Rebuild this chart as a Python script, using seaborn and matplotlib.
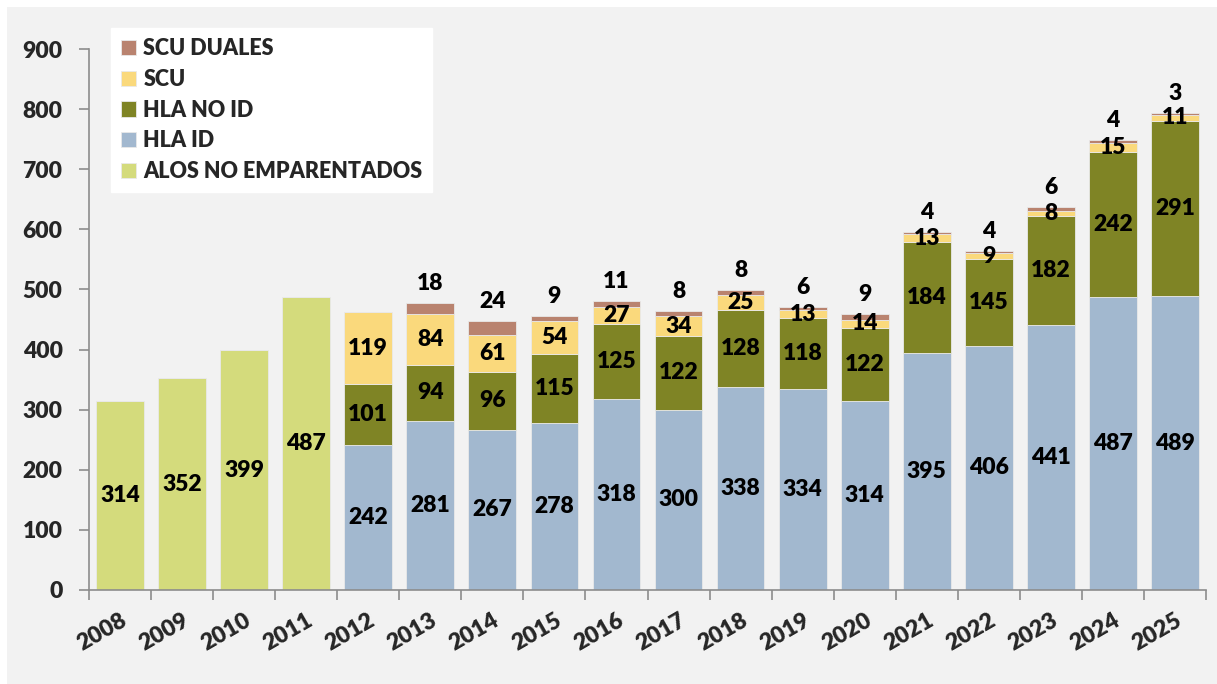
import numpy as np
import pandas as pd
import matplotlib.pyplot as plt
import seaborn as sns
from matplotlib.patches import Rectangle

# data
years = [str(y) for y in range(2008, 2026)]
alos = [314, 352, 399, 487] + [0] * 14
hla_id = [0] * 4 + [242, 281, 267, 278, 318, 300, 338, 334, 314, 395, 406, 441, 487, 489]
hla_no_id = [0] * 4 + [101, 94, 96, 115, 125, 122, 128, 118, 122, 184, 145, 182, 242, 291]
scu = [0] * 4 + [119, 84, 61, 54, 27, 34, 25, 13, 14, 13, 9, 8, 15, 11]
scu_duales = [0] * 4 + [0, 18, 24, 9, 11, 8, 8, 6, 9, 4, 4, 6, 4, 3]

layers = [
    ('ALOS NO EMPARENTADOS', alos, '#d4db7c'),
    ('HLA ID', hla_id, '#a2b8cf'),
    ('HLA NO ID', hla_no_id, '#7f8425'),
    ('SCU', scu, '#fad97c'),
    ('SCU DUALES', scu_duales, '#b9836f'),
]

sns.set_style('white')
plt.rcParams['font.family'] = ['Lato', 'DejaVu Sans']
plt.rcParams['font.weight'] = 'heavy'
FS = 16.5
WT = 'heavy'

fig = plt.figure(figsize=(12.17, 6.84), dpi=100, facecolor='white')
fig.patches.append(Rectangle((7 / 1217, 0), 1, 1 - 7 / 684, transform=fig.transFigure,
                             facecolor='#f2f2f2', edgecolor='none', zorder=-10))
ax = fig.add_axes([89 / 1217, (684 - 590) / 684, (1206 - 89) / 1217, 541 / 684])
ax.set_facecolor('none')

bottom = np.zeros(len(years))
for name, vals, col in layers:
    vals = np.array(vals, dtype=float)
    sns.barplot(x=years, y=vals, bottom=bottom, color=col, width=0.77, ax=ax,
                edgecolor='#e9e9e9', linewidth=0.6, saturation=1, label=name)
    for i, v in enumerate(vals):
        if v == 0:
            continue
        if name == 'SCU DUALES':
            ax.annotate(str(int(v)), (i, bottom[i] + v), xytext=(0, 14), textcoords='offset points',
                        ha='center', va='center', fontsize=FS, fontweight=WT, color='black')
        else:
            ax.text(i, bottom[i] + v / 2, str(int(v)), ha='center', va='center',
                    fontsize=FS, fontweight=WT, color='black')
    bottom = bottom + vals

ax.set_ylim(0, 900)
ax.set_xlim(-0.5, len(years) - 0.5)
ax.set_yticks(range(0, 901, 100))
ax.set_xlabel('')
ax.set_ylabel('')
for s in ['top', 'right']:
    ax.spines[s].set_visible(False)
for s in ['left', 'bottom']:
    ax.spines[s].set_color('#8c8c8c')
    ax.spines[s].set_linewidth(1.2)

ax.tick_params(axis='y', left=True, length=7, width=1.2, color='#8c8c8c', labelsize=FS, pad=12)
ax.set_xticks(np.arange(len(years)))
ax.set_xticklabels(years, rotation=30, ha='right', rotation_mode='anchor', fontsize=FS)
ax.tick_params(axis='x', which='major', bottom=False, length=0, pad=14)
ax.set_xticks(np.arange(-0.5, len(years)), minor=True)
ax.tick_params(axis='x', which='minor', bottom=True, length=7, width=1.2, color='#8c8c8c')
for lab in ax.get_xticklabels() + ax.get_yticklabels():
    lab.set_fontweight(WT)
for lab in ax.get_xticklabels():
    lab.set_x(lab.get_position()[0] + 0.1)

h, l = ax.get_legend_handles_labels()
leg = ax.legend(h[::-1], l[::-1], loc='upper left', bbox_to_anchor=(22 / 1117, 1.038),
                frameon=True, fancybox=False, facecolor='white', edgecolor='white', framealpha=1,
                prop={'weight': WT, 'size': 15.5}, handlelength=0.7, handleheight=0.7,
                handletextpad=0.35, labelspacing=0.45, borderpad=0.45, borderaxespad=0)

fig.savefig('out.png', dpi=100, facecolor='white')
